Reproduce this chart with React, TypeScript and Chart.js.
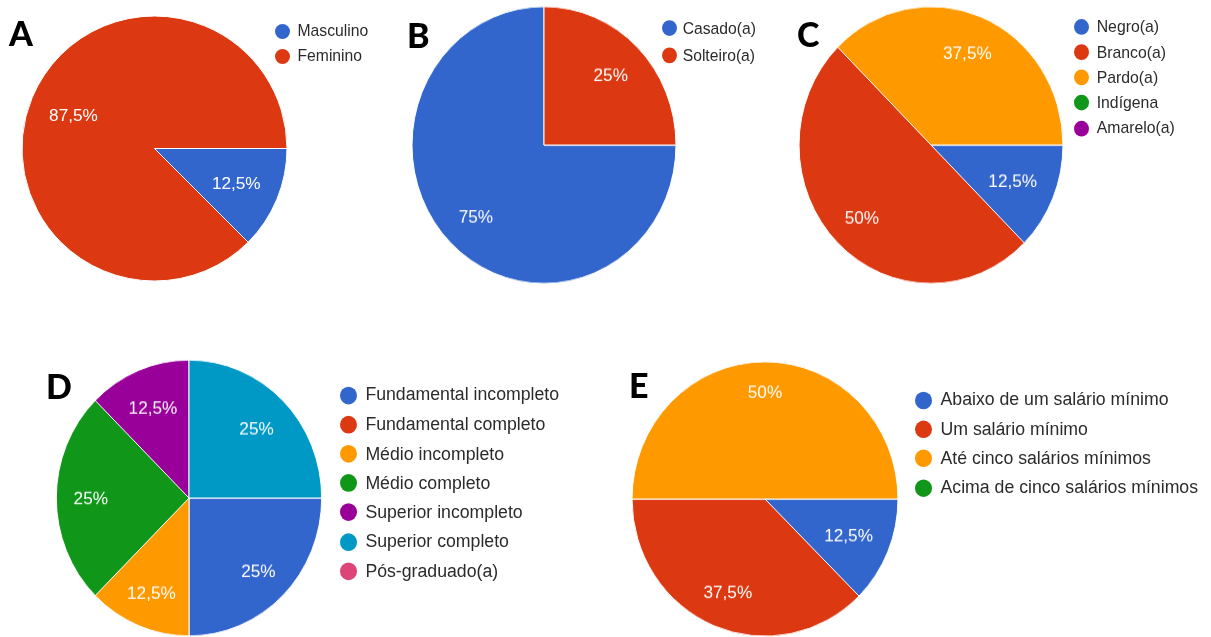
import React, { useEffect, useRef } from "react";
import { Chart, registerables } from "chart.js";

Chart.register(...registerables);

// ---- Data ----
const googleColors = ["#3366cc", "#dc3912", "#ff9900", "#109618", "#990099", "#0099c6", "#dd4477"];

const sexoLabels = ["Masculino", "Feminino"];
const sexoValues = [12.5, 87.5];

const civilLabels = ["Casado(a)", "Solteiro(a)"];
const civilValues = [75, 25];

const racaLabels = ["Negro(a)", "Branco(a)", "Pardo(a)", "Indígena", "Amarelo(a)"];
const racaValues = [12.5, 50, 37.5, 0, 0];

const escolaridadeLabels = [
  "Fundamental incompleto",
  "Fundamental completo",
  "Médio incompleto",
  "Médio completo",
  "Superior incompleto",
  "Superior completo",
  "Pós-graduado(a)",
];
const escolaridadeValues = [25, 0, 12.5, 25, 12.5, 25, 0];

const rendaLabels = [
  "Abaixo de um salário mínimo",
  "Um salário mínimo",
  "Até cinco salários mínimos",
  "Acima de cinco salários mínimos",
];
const rendaValues = [12.5, 37.5, 50, 0];

const panelLetters = ["A", "B", "C", "D", "E"];

// ---- Layout / style config ----
type PanelCfg = {
  letter: string;
  labels: string[];
  values: number[];
  cx: number;
  cy: number;
  r: number;
  sy: number;
  fractions: number[];
  dotX: number;
  dotR: number;
  textX: number;
  legendY0: number;
  legendStep: number;
  legendFont: number;
  letterX: number;
  letterY: number;
};

const panels: PanelCfg[] = [
  {
    letter: panelLetters[0], labels: sexoLabels, values: sexoValues,
    cx: 154.5, cy: 148, r: 132.5, sy: 1, fractions: [0.668, 0.662],
    dotX: 282, dotR: 7.5, textX: 297.5, legendY0: 31, legendStep: 25, legendFont: 15.7,
    letterX: 9, letterY: 21.7,
  },
  {
    letter: panelLetters[1], labels: civilLabels, values: civilValues,
    cx: 543.5, cy: 144.5, r: 132, sy: 1.049, fractions: [0.73, 0.715],
    dotX: 669, dotR: 7.5, textX: 682.7, legendY0: 33.7, legendStep: 25.5, legendFont: 15.7,
    letterX: 407, letterY: 24,
  },
  {
    letter: panelLetters[2], labels: racaLabels, values: racaValues,
    cx: 931, cy: 145, r: 132, sy: 1.049, fractions: [0.67, 0.74, 0.72, 0.72, 0.72],
    dotX: 1081, dotR: 7.5, textX: 1096.7, legendY0: 32.2, legendStep: 24.2, legendFont: 15.8,
    letterX: 797, letterY: 22.7,
  },
  {
    letter: panelLetters[3], labels: escolaridadeLabels, values: escolaridadeValues,
    cx: 189, cy: 498, r: 132.7, sy: 1.04, fractions: [0.74, 0.72, 0.74, 0.74, 0.71, 0.72, 0.72],
    dotX: 348.8, dotR: 8.5, textX: 365.4, legendY0: 399, legendStep: 28.2, legendFont: 17.7,
    letterX: 46, letterY: 375,
  },
  {
    letter: panelLetters[4], labels: rendaLabels, values: rendaValues,
    cx: 765, cy: 499, r: 133, sy: 1.032, fractions: [0.68, 0.73, 0.78, 0.72],
    dotX: 923.7, dotR: 8.5, textX: 940.5, legendY0: 403.1, legendStep: 28.3, legendFont: 17.7,
    letterX: 629, letterY: 374,
  },
];

const LABEL_FONT = 17.2;
const FONT_FAMILY = '"Liberation Sans", Arial, sans-serif';

function makePctPlugin(fractions: number[], size: number) {
  return {
    id: "pctLabels",
    afterDatasetsDraw(chart: any) {
      const ctx = chart.ctx as CanvasRenderingContext2D;
      const vals = chart.data.datasets[0].data as number[];
      const total = vals.reduce((a, b) => a + b, 0);
      const meta = chart.getDatasetMeta(0);
      ctx.save();
      ctx.fillStyle = "#ffffff";
      ctx.font = `${size}px ${FONT_FAMILY}`;
      ctx.textAlign = "center";
      ctx.textBaseline = "alphabetic";
      meta.data.forEach((arc: any, i: number) => {
        const v = vals[i];
        if (!v) return;
        const p = arc.getProps(["x", "y", "startAngle", "endAngle", "outerRadius"], true);
        const mid = (p.startAngle + p.endAngle) / 2;
        const f = fractions[i] ?? 0.72;
        const x = p.x + Math.cos(mid) * p.outerRadius * f;
        const y = p.y + Math.sin(mid) * p.outerRadius * f;
        const pct = Math.round((v / total) * 1000) / 10;
        ctx.fillText(String(pct).replace(".", ",") + "%", x, y + size * 0.358);
      });
      ctx.restore();
    },
  };
}

function PiePanel({ cfg }: { cfg: PanelCfg }) {
  const ref = useRef<HTMLCanvasElement>(null);
  const S = Math.ceil(2 * cfg.r + 8);
  useEffect(() => {
    if (!ref.current) return;
    const chart = new Chart(ref.current, {
      type: "pie",
      data: {
        labels: cfg.labels,
        datasets: [
          {
            data: cfg.values,
            backgroundColor: googleColors.slice(0, cfg.values.length),
            borderColor: "#ffffff",
            borderWidth: 1,
          },
        ],
      },
      options: {
        responsive: false,
        animation: false,
        rotation: 90,
        radius: cfg.r,
        events: [],
        layout: { padding: 0 },
        plugins: {
          legend: { display: false },
          tooltip: { enabled: false },
        },
      } as any,
      plugins: [makePctPlugin(cfg.fractions, LABEL_FONT)],
    });
    return () => chart.destroy();
  }, []);

  return (
    <div
      style={{
        position: "absolute",
        left: 0,
        top: 0,
        width: 1211,
        height: 637,
        transformOrigin: `${cfg.cx}px ${cfg.cy}px`,
        transform: `scaleY(${cfg.sy})`,
      }}
    >
      <canvas
        ref={ref}
        width={S}
        height={S}
        style={{ position: "absolute", left: cfg.cx - S / 2, top: cfg.cy - S / 2, width: S, height: S }}
      />
      {cfg.labels.map((lab, i) => {
        const y = cfg.legendY0 + i * cfg.legendStep;
        return (
          <React.Fragment key={lab}>
            <div
              style={{
                position: "absolute",
                left: cfg.dotX - cfg.dotR,
                top: y - cfg.dotR,
                width: cfg.dotR * 2,
                height: cfg.dotR * 2,
                borderRadius: "50%",
                background: googleColors[i],
              }}
            />
            <div
              style={{
                position: "absolute",
                left: cfg.textX,
                top: y - 0.4885 * cfg.legendFont,
                fontSize: cfg.legendFont,
                lineHeight: `${cfg.legendFont}px`,
                fontFamily: FONT_FAMILY,
                color: "#2b2b2b",
                whiteSpace: "nowrap",
              }}
            >
              {lab}
            </div>
          </React.Fragment>
        );
      })}
    </div>
  );
}

export default function App() {
  return (
    <div
      style={{
        position: "fixed",
        left: 0,
        top: 0,
        width: 1211,
        height: 637,
        overflow: "hidden",
        background: "#ffffff",
      }}
    >
      {panels.map((p) => (
        <PiePanel key={p.letter} cfg={p} />
      ))}
      {panels.map((p) => (
        <div
          key={"L" + p.letter}
          style={{
            position: "absolute",
            left: p.letterX,
            top: p.letterY - 0.17 * 34,
            fontSize: 34,
            lineHeight: "34px",
            fontFamily: "Lato, 'Open Sans', sans-serif",
            fontWeight: 900,
            color: "#000000",
          }}
        >
          {p.letter}
        </div>
      ))}
    </div>
  );
}
